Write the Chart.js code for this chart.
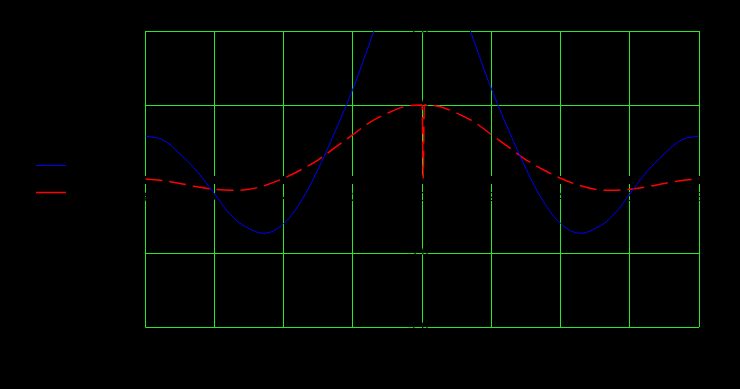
<!DOCTYPE html>
<html><head><meta charset="utf-8">
<script src="https://cdn.jsdelivr.net/npm/chart.js@4/dist/chart.umd.min.js"></script>
<style>html,body{margin:0;padding:0;background:#000;} canvas{display:block;}</style>
</head><body>
<canvas id="c" width="740" height="389"></canvas>
<script>
const seriesNames = ['Dataset 1', 'Dataset 2'];
const xValues = [-8,-7.5,-7,-6.5,-6,-5.5,-5,-4.5,-4,-3.5,-3,-2.5,-2,-1.5,-1,-0.5,0,0.03,0.06,0.5,1,1.5,2,2.5,3,3.5,4,4.5,5,5.5,6,6.5,7,7.5,8];
const blueValues = [0.58,0.53,0.34,0.10,-0.20,-0.50,-0.67,-0.73,-0.60,-0.30,0.14,0.66,1.22,1.86,2.5,3.0,3.2,3.2,3.2,3.0,2.5,1.86,1.22,0.66,0.14,-0.30,-0.60,-0.73,-0.67,-0.50,-0.20,0.10,0.34,0.53,0.58];
const redValues = [0.0,-0.02,-0.06,-0.105,-0.14,-0.153,-0.14,-0.08,0.01,0.125,0.26,0.43,0.6,0.77,0.89,0.98,1.0,0.01,1.0,0.98,0.89,0.77,0.6,0.43,0.26,0.125,0.01,-0.08,-0.14,-0.153,-0.14,-0.105,-0.06,-0.02,0.0];
const xMin = -8, xMax = 8, xStep = 2;
const yMin = -2, yMax = 2, yStep = 1;

const GREEN = 'rgb(40,232,40)';
const toPoints = vals => xValues.map((x, i) => ({x: x, y: vals[i]}));

new Chart(document.getElementById('c'), {
  type: 'line',
  data: {
    datasets: [
      { label: seriesNames[0], data: toPoints(blueValues), borderColor: '#0000ff', backgroundColor: '#0000ff',
        borderWidth: 1, pointRadius: 0, pointRotation: 180, tension: 0.4, fill: false },
      { label: seriesNames[1], data: toPoints(redValues), borderColor: '#ff0000', backgroundColor: '#ff0000',
        borderWidth: 1.5, borderDash: [17, 7], pointRadius: 0, pointRotation: 180, cubicInterpolationMode: 'monotone', fill: false }
    ]
  },
  options: {
    responsive: false,
    animation: false,
    devicePixelRatio: 1,
    layout: { padding: { left: 23.5, top: 31, bottom: 62, right: 41 } },
    plugins: {
      legend: {
        position: 'left',
        labels: { color: '#000', font: { size: 14.5 }, padding: 12.5, usePointStyle: true, pointStyle: 'line', pointStyleWidth: 30 }
      },
      tooltip: { enabled: false }
    },
    scales: {
      x: {
        type: 'linear', position: 'center', min: xMin, max: xMax,
        ticks: { stepSize: xStep, color: '#000' },
        grid: { color: GREEN, lineWidth: 1 },
        border: { color: '#000', width: 8 }
      },
      y: {
        type: 'linear', position: 'center', min: yMin, max: yMax,
        ticks: { stepSize: yStep, color: '#000', padding: -14, callback: v => Number(v).toFixed(1) },
        grid: { color: ctx => (ctx.tick && ctx.tick.value === 0) ? 'rgba(0,0,0,0)' : GREEN, lineWidth: 1 },
        border: { display: false }
      }
    }
  }
});
</script>
</body></html>
